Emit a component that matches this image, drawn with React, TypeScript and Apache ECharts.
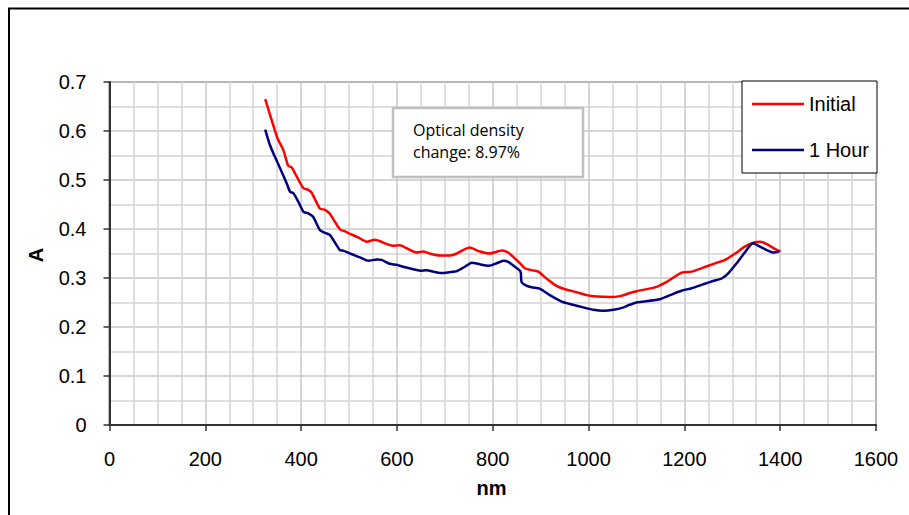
import React, { useEffect, useRef } from "react";
import * as echarts from "echarts";

const initialNm = [325, 345, 352, 363, 373, 380, 387, 405, 415, 422, 439, 450, 460, 481, 492, 502, 519, 537, 554, 565, 579, 592, 606, 620, 641, 655, 672, 690, 711, 725, 738, 752, 773, 794, 819, 832, 846, 857, 867, 881, 895, 912, 933, 951, 975, 996, 1017, 1045, 1066, 1085, 1100, 1142, 1163, 1194, 1215, 1236, 1264, 1285, 1306, 1326, 1344, 1358, 1372, 1386, 1396, 1401];
const initialA = [0.665, 0.602, 0.582, 0.561, 0.529, 0.526, 0.514, 0.483, 0.48, 0.474, 0.442, 0.439, 0.431, 0.399, 0.395, 0.39, 0.383, 0.374, 0.378, 0.375, 0.369, 0.366, 0.367, 0.361, 0.352, 0.354, 0.349, 0.346, 0.346, 0.35, 0.357, 0.362, 0.354, 0.35, 0.356, 0.352, 0.34, 0.33, 0.32, 0.316, 0.313, 0.299, 0.284, 0.277, 0.271, 0.265, 0.262, 0.261, 0.263, 0.269, 0.273, 0.282, 0.292, 0.311, 0.313, 0.32, 0.33, 0.337, 0.35, 0.364, 0.372, 0.374, 0.369, 0.361, 0.356, 0.355];

const hourNm = [325, 335, 345, 356, 370, 377, 384, 394, 405, 415, 425, 439, 450, 460, 481, 488, 502, 523, 540, 558, 568, 585, 599, 613, 634, 648, 662, 676, 690, 711, 725, 742, 756, 773, 791, 808, 822, 832, 846, 858, 860, 867, 881, 899, 919, 944, 961, 989, 1010, 1031, 1052, 1073, 1085, 1100, 1146, 1170, 1194, 1215, 1239, 1260, 1278, 1292, 1309, 1326, 1343, 1358, 1372, 1386, 1398];
const hourA = [0.603, 0.571, 0.548, 0.524, 0.493, 0.476, 0.473, 0.456, 0.435, 0.432, 0.425, 0.398, 0.392, 0.388, 0.357, 0.356, 0.35, 0.342, 0.335, 0.338, 0.337, 0.329, 0.327, 0.323, 0.318, 0.315, 0.316, 0.313, 0.31, 0.312, 0.314, 0.323, 0.331, 0.328, 0.325, 0.33, 0.335, 0.333, 0.323, 0.313, 0.292, 0.286, 0.281, 0.278, 0.265, 0.252, 0.247, 0.24, 0.235, 0.233, 0.235, 0.24, 0.245, 0.25, 0.256, 0.265, 0.274, 0.279, 0.287, 0.294, 0.299, 0.31, 0.33, 0.352, 0.371, 0.364, 0.357, 0.352, 0.354];

const seriesNames = ["Initial", "1 Hour"];
const xTitle = "nm";
const yTitle = "A";
const noteLines = ["Optical density", "change: 8.97%"];

const FONT = "Liberation Sans, Arial, sans-serif";
const LINE_ICON = "path://M0,0 L52,0 L52,2.5 L0,2.5 Z";

export default function App() {
  const ref = useRef<HTMLDivElement>(null);
  useEffect(() => {
    if (!ref.current) return;
    const chart = echarts.init(ref.current, undefined, { renderer: "svg" });
    const zip = (xs: number[], ys: number[]) => xs.map((x, i) => [x, ys[i]]);
    chart.setOption({
      animation: false,
      backgroundColor: "#ffffff",
      textStyle: { fontFamily: FONT },
      grid: {
        left: 109.5,
        right: 33,
        top: 82,
        bottom: 90,
        show: true,
        borderColor: "#808080",
        borderWidth: 2,
        backgroundColor: "transparent",
      },
      legend: {
        orient: "vertical",
        left: 742,
        top: 81,
        padding: [13, 8, 13, 10],
        itemGap: 26,
        itemWidth: 52,
        itemHeight: 14,
        borderColor: "#000000",
        borderWidth: 1,
        backgroundColor: "#ffffff",
        textStyle: { fontFamily: FONT, fontSize: 20, color: "#000000" },
        data: seriesNames.map((n) => ({ name: n, icon: LINE_ICON })),
      },
      xAxis: {
        type: "value",
        min: 0,
        max: 1600,
        interval: 200,
        axisLine: { show: true, onZero: false, lineStyle: { color: "#333333", width: 2 } },
        axisTick: { show: true, inside: false, length: 6, lineStyle: { color: "#333333", width: 1.5 } },
        axisLabel: {
          fontFamily: FONT,
          fontSize: 20,
          color: "#000000",
          margin: 24,
          formatter: (v: number) => String(v),
        },
        splitLine: { show: true, lineStyle: { color: "#c8c8c8", width: 1.5 } },
        minorTick: { show: false, splitNumber: 4 },
        minorSplitLine: { show: true, lineStyle: { color: "#d4d4d4", width: 1.5 } },
      },
      yAxis: {
        type: "value",
        min: 0,
        max: 0.7,
        interval: 0.1,
        axisLine: { show: true, onZero: false, lineStyle: { color: "#333333", width: 2 } },
        axisTick: { show: true, inside: false, length: 6, lineStyle: { color: "#333333", width: 1.5 } },
        axisLabel: { fontFamily: FONT, fontSize: 20, color: "#000000", margin: 23 },
        splitLine: { show: true, lineStyle: { color: "#c8c8c8", width: 1.5 } },
        minorTick: { show: false, splitNumber: 2 },
        minorSplitLine: { show: true, lineStyle: { color: "#d4d4d4", width: 1.5 } },
      },
      series: [
        {
          name: seriesNames[0],
          type: "line",
          data: zip(initialNm, initialA),
          symbol: "none",
          smooth: 0.2,
          lineStyle: { color: "#ff0000", width: 2.5 },
          itemStyle: { color: "#ff0000" },
          z: 3,
        },
        {
          name: seriesNames[1],
          type: "line",
          data: zip(hourNm, hourA),
          symbol: "none",
          smooth: 0.2,
          lineStyle: { color: "#000080", width: 2.5 },
          itemStyle: { color: "#000080" },
          z: 4,
        },
      ],
      graphic: [
        {
          type: "rect",
          shape: { x: 9, y: 8.5, width: 1000, height: 600 },
          style: { fill: "none", stroke: "#000000", lineWidth: 2 },
          silent: true,
        },
        {
          type: "rect",
          shape: { x: 393, y: 108, width: 190, height: 69 },
          style: { fill: "#ffffff", stroke: "#c0c0c0", lineWidth: 2.5 },
          z: 10,
        },
        {
          type: "text",
          x: 413,
          y: 130,
          style: {
            text: noteLines[0],
            font: "16px 'Open Sans', 'Noto Sans', sans-serif",
            fill: "#000000",
            verticalAlign: "middle",
          },
          z: 11,
        },
        {
          type: "text",
          x: 413,
          y: 152,
          style: {
            text: noteLines[1],
            font: "16px 'Open Sans', 'Noto Sans', sans-serif",
            fill: "#000000",
            verticalAlign: "middle",
          },
          z: 11,
        },
        {
          type: "text",
          x: 491.5,
          y: 488,
          style: {
            text: xTitle,
            font: "bold 20px " + FONT,
            fill: "#000000",
            align: "center",
            verticalAlign: "middle",
          },
        },
        {
          type: "text",
          x: 36,
          y: 255,
          rotation: Math.PI / 2,
          style: {
            text: yTitle,
            font: "bold 20px " + FONT,
            fill: "#000000",
            align: "center",
            verticalAlign: "middle",
          },
        },
      ],
    });
    return () => chart.dispose();
  }, []);
  return (
    <div
      ref={ref}
      style={{ position: "absolute", left: 0, top: 0, width: 909, height: 515 }}
    />
  );
}
